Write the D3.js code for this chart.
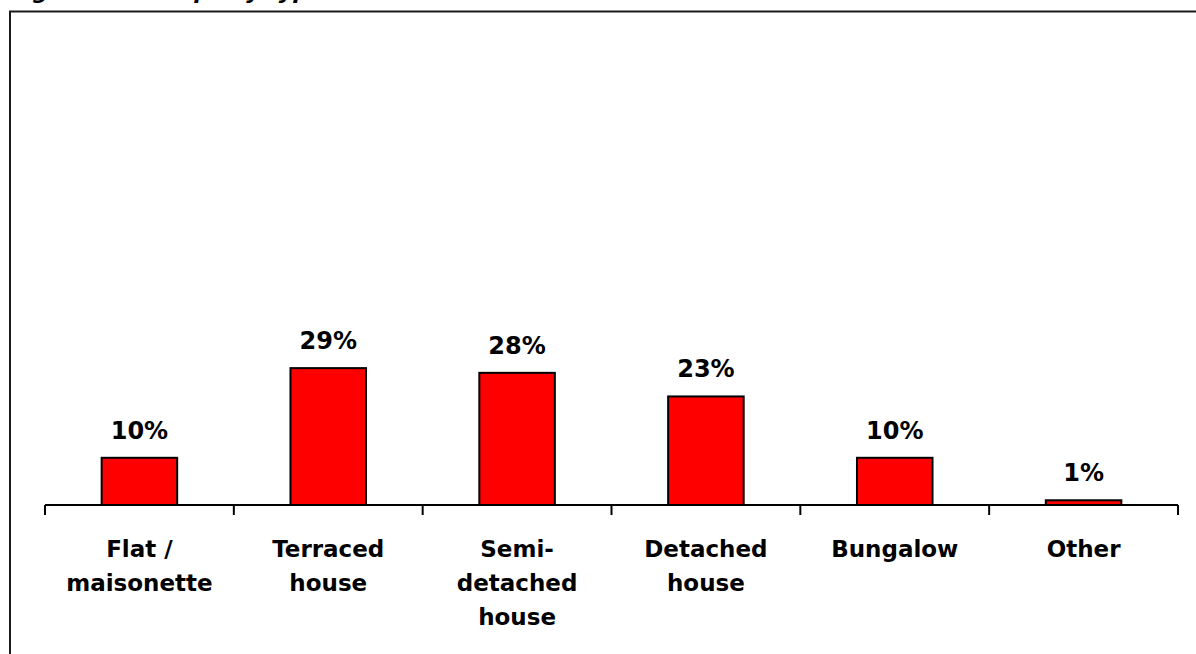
<!DOCTYPE html>
<html>
<head>
<meta charset="utf-8">
<script src="https://cdn.jsdelivr.net/npm/d3@7"></script>
<style>
  html, body { margin: 0; padding: 0; background: #fff; }
  svg { display: block; }
  text { font-family: "DejaVu Sans", sans-serif; font-weight: bold; fill: #000; }
</style>
</head>
<body>
<svg id="chart" width="1196" height="654"></svg>
<script>
// Property type shares (percent of dwellings)
const categories = ["Flat / maisonette", "Terraced house", "Semi-detached house", "Detached house", "Bungalow", "Other"];
const categoryLines = [["Flat /", "maisonette"], ["Terraced", "house"], ["Semi-", "detached", "house"], ["Detached", "house"], ["Bungalow"], ["Other"]];
const shares = [10, 29, 28, 23, 10, 1];
const titleText = "Figure 2.1: Property type";

const svg = d3.select("#chart");

// Title sits mostly above the visible area
svg.append("text")
  .attr("x", 10).attr("y", -1)
  .attr("font-size", 22)
  .attr("font-style", "italic")
  .text(titleText);

// Outer frame (runs off the right and bottom edges)
svg.append("rect")
  .attr("x", 10).attr("y", 11.5)
  .attr("width", 1300).attr("height", 800)
  .attr("fill", "none")
  .attr("stroke", "#1a1a1a")
  .attr("stroke-width", 2);

const plot = { left: 45, right: 1178, top: 33, bottom: 505 };

const x = d3.scaleBand()
  .domain(categories)
  .range([plot.left, plot.right])
  .paddingInner(0.6)
  .paddingOuter(0.3);

const y = d3.scaleLinear()
  .domain([0, 100])
  .range([plot.bottom, plot.top]);

const data = categories.map((c, i) => ({ cat: c, value: shares[i], lines: categoryLines[i] }));

// Bars
svg.append("g").selectAll("rect")
  .data(data)
  .join("rect")
  .attr("x", d => x(d.cat))
  .attr("y", d => y(d.value))
  .attr("width", x.bandwidth())
  .attr("height", d => y(0) - y(d.value))
  .attr("fill", "#ff0000")
  .attr("stroke", "#000")
  .attr("stroke-width", 2);

// Category axis with ticks between categories
const boundaries = d3.range(categories.length + 1).map(i => plot.left + i * (plot.right - plot.left) / categories.length);
const axis = svg.append("g");
axis.append("line")
  .attr("x1", plot.left).attr("x2", plot.right)
  .attr("y1", plot.bottom).attr("y2", plot.bottom)
  .attr("stroke", "#000").attr("stroke-width", 2);
axis.selectAll("line.tick")
  .data(boundaries)
  .join("line")
  .attr("class", "tick")
  .attr("x1", d => d).attr("x2", d => d)
  .attr("y1", plot.bottom).attr("y2", plot.bottom + 10)
  .attr("stroke", "#000").attr("stroke-width", 2);

// Category labels
const labels = svg.append("g").selectAll("text")
  .data(data)
  .join("text")
  .attr("text-anchor", "middle")
  .attr("font-size", 23)
  .attr("x", d => x(d.cat) + x.bandwidth() / 2)
  .attr("y", 557);
labels.selectAll("tspan")
  .data(d => d.lines.map(l => ({ l, cx: x(d.cat) + x.bandwidth() / 2 })))
  .join("tspan")
  .attr("x", d => d.cx)
  .attr("dy", (d, i) => i === 0 ? 0 : 34)
  .text(d => d.l);

// Value labels
svg.append("g").selectAll("text")
  .data(data)
  .join("text")
  .attr("text-anchor", "middle")
  .attr("font-size", 24)
  .attr("x", d => x(d.cat) + x.bandwidth() / 2)
  .attr("y", d => y(d.value) - 19)
  .text(d => d.value + "%");
</script>
</body>
</html>
